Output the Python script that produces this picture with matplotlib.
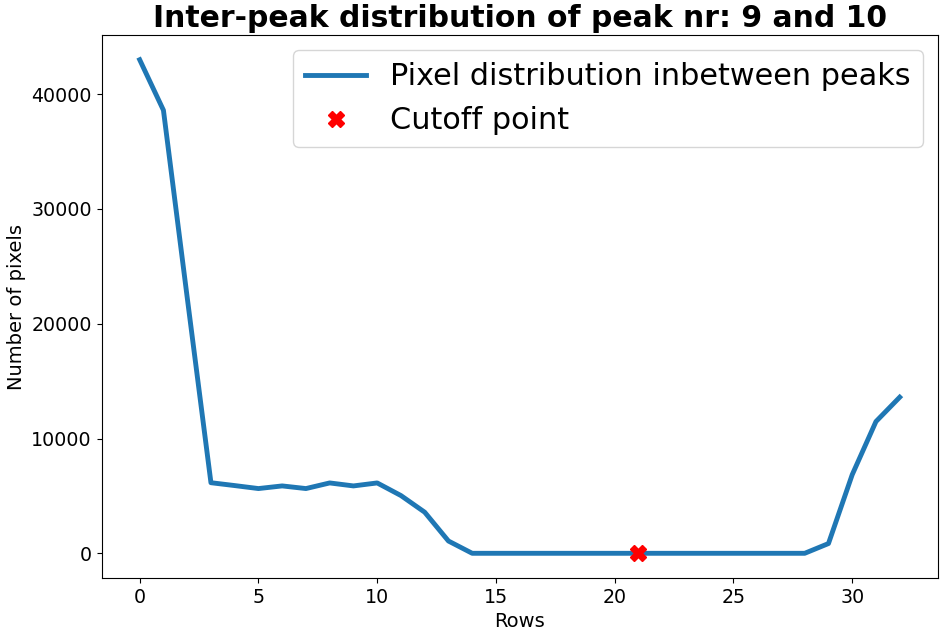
import matplotlib
matplotlib.use("Agg")
import matplotlib.pyplot as plt

rows = list(range(33))
pixels = [43000, 38600, 22300, 6150, 5900, 5640, 5870, 5640, 6130, 5870, 6130,
          5030, 3580, 1070, 0, 0, 0, 0, 0, 0, 0, 0, 0, 0, 0, 0, 0, 0, 0,
          850, 6850, 11480, 13600]
cutoff_x = [21]
cutoff_y = [0]

fig = plt.figure(figsize=(9.45, 6.35), dpi=100)
ax = fig.add_axes([0.1076, 0.0898, 0.8847, 0.855])
ax.plot(rows, pixels, color="#1f77b4", lw=3.5, label="Pixel distribution inbetween peaks")
ax.plot(cutoff_x, cutoff_y, "X", color="red", ms=12, label="Cutoff point")
ax.set_title("Inter-peak distribution of peak nr: 9 and 10", fontsize=21.5, fontweight="bold")
ax.set_xlabel("Rows", fontsize=14)
ax.set_ylabel("Number of pixels", fontsize=14)
ax.tick_params(labelsize=13.7)
ax.set_xticks([0, 5, 10, 15, 20, 25, 30])
ax.set_yticks([0, 10000, 20000, 30000, 40000])
ax.legend(fontsize=21.75, loc="upper right")
fig.savefig("out.png", dpi=100)
